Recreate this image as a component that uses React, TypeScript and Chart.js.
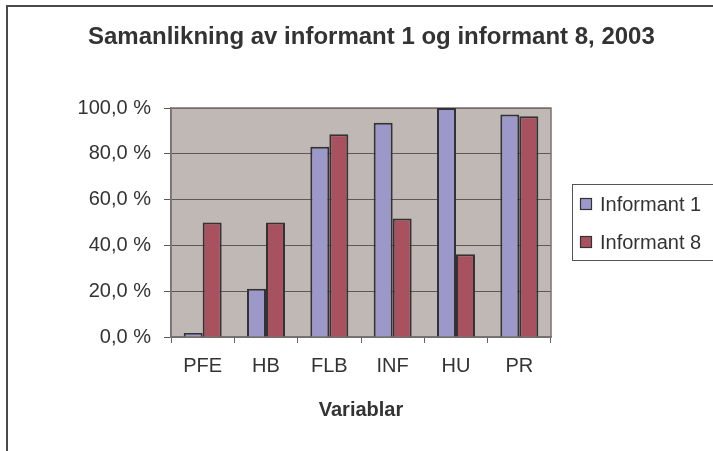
import React, { useEffect, useRef } from 'react';
import { Chart, registerables } from 'chart.js';

Chart.register(...registerables);

const categories = ['PFE', 'HB', 'FLB', 'INF', 'HU', 'PR'];
const informant1 = [1.8, 21.1, 83.1, 93.6, 100.0, 97.2];
const informant8 = [50.0, 50.0, 88.5, 51.7, 36.1, 96.4];
const seriesNames = ['Informant 1', 'Informant 8'];
const seriesColors = ['#9D98CA', '#A9525F'];
const yTickLabels = ['0,0 %', '20,0 %', '40,0 %', '60,0 %', '80,0 %', '100,0 %'];
const titleText = 'Samanlikning av informant 1 og informant 8, 2003';
const xAxisTitle = 'Variablar';

const FONT = '"Liberation Sans", Arial, sans-serif';

const decor = {
  id: 'decor',
  beforeDraw(chart: any) {
    const { ctx, chartArea: a } = chart;
    ctx.save();
    ctx.fillStyle = '#ffffff';
    ctx.fillRect(0, 0, chart.width, chart.height);
    ctx.strokeStyle = '#4a4a4a';
    ctx.lineWidth = 2;
    ctx.strokeRect(7, 6, 900, 700);
    ctx.fillStyle = '#C0B8B5';
    ctx.fillRect(a.left, a.top, a.right - a.left, a.bottom - a.top);
    ctx.restore();
  },
  beforeDatasetsDraw(chart: any) {
    const { ctx, chartArea: a } = chart;
    ctx.save();
    ctx.strokeStyle = '#7a7272';
    ctx.lineWidth = 1.5;
    ctx.strokeRect(a.left, a.top, a.right - a.left, a.bottom - a.top);
    ctx.restore();
  },
  afterDraw(chart: any) {
    const { ctx } = chart;
    ctx.save();
    // title
    ctx.fillStyle = '#333333';
    ctx.font = `bold 24px ${FONT}`;
    ctx.textAlign = 'left';
    ctx.textBaseline = 'middle';
    ctx.fillText(titleText, 88, 37);
    // legend box
    ctx.strokeStyle = '#555555';
    ctx.lineWidth = 1;
    ctx.strokeRect(572.5, 184.5, 200, 76);
    const ys = [204, 242];
    chart.data.datasets.forEach((ds: any, i: number) => {
      ctx.fillStyle = ds.backgroundColor;
      ctx.fillRect(580.5, ys[i] - 5.5, 11, 11);
      ctx.strokeStyle = '#333333';
      ctx.lineWidth = 1.2;
      ctx.strokeRect(580.5, ys[i] - 5.5, 11, 11);
      ctx.fillStyle = '#333333';
      ctx.font = `20px ${FONT}`;
      ctx.textBaseline = 'middle';
      ctx.fillText(ds.label, 600, ys[i] + 1);
    });
    ctx.restore();
  },
};

export default function App() {
  const ref = useRef<HTMLCanvasElement | null>(null);
  useEffect(() => {
    document.body.style.margin = '0';
    const canvas = ref.current;
    if (!canvas) return;
    const chart = new Chart(canvas, {
      type: 'bar',
      data: {
        labels: categories,
        datasets: [
          {
            label: seriesNames[0],
            data: informant1,
            backgroundColor: seriesColors[0],
            borderColor: '#333333',
            borderWidth: 2,
            categoryPercentage: 0.6,
            barPercentage: 1,
          },
          {
            label: seriesNames[1],
            data: informant8,
            backgroundColor: seriesColors[1],
            borderColor: '#333333',
            borderWidth: 2,
            categoryPercentage: 0.6,
            barPercentage: 1,
          },
        ],
      },
      options: {
        responsive: false,
        animation: false,
        devicePixelRatio: 1,
        layout: { padding: { top: 108, right: 162, left: 0, bottom: 0 } },
        plugins: {
          legend: { display: false },
          title: { display: false },
          tooltip: { enabled: false },
        },
        scales: {
          x: {
            grid: {
              offset: true,
              drawOnChartArea: false,
              drawTicks: true,
              tickLength: 6,
              color: '#666666',
            },
            border: { display: true, color: '#7a7272', width: 1.5 },
            ticks: {
              color: '#333333',
              font: { family: FONT, size: 20 },
              padding: 11,
              maxRotation: 0,
              autoSkip: false,
            },
            title: {
              display: true,
              text: xAxisTitle,
              color: '#333333',
              font: { family: FONT, size: 20, weight: 'bold' },
              padding: { top: 0, bottom: 29 },
            },
            afterFit: (s: any) => {
              s.height = 114;
            },
          },
          y: {
            min: 0,
            max: 100,
            ticks: {
              stepSize: 20,
              color: '#333333',
              font: { family: FONT, size: 20 },
              padding: 13,
              callback: (v: any) => yTickLabels[Math.round(Number(v) / 20)],
            },
            grid: { color: '#5e5858', tickLength: 7, lineWidth: 1 },
            border: { display: true, color: '#7a7272', width: 1.5 },
            afterFit: (s: any) => {
              s.width = 171;
            },
          },
        },
      },
      plugins: [decor],
    });
    return () => chart.destroy();
  }, []);
  return (
    <canvas
      ref={ref}
      width={713}
      height={451}
      style={{ display: 'block', width: 713, height: 451 }}
    />
  );
}
